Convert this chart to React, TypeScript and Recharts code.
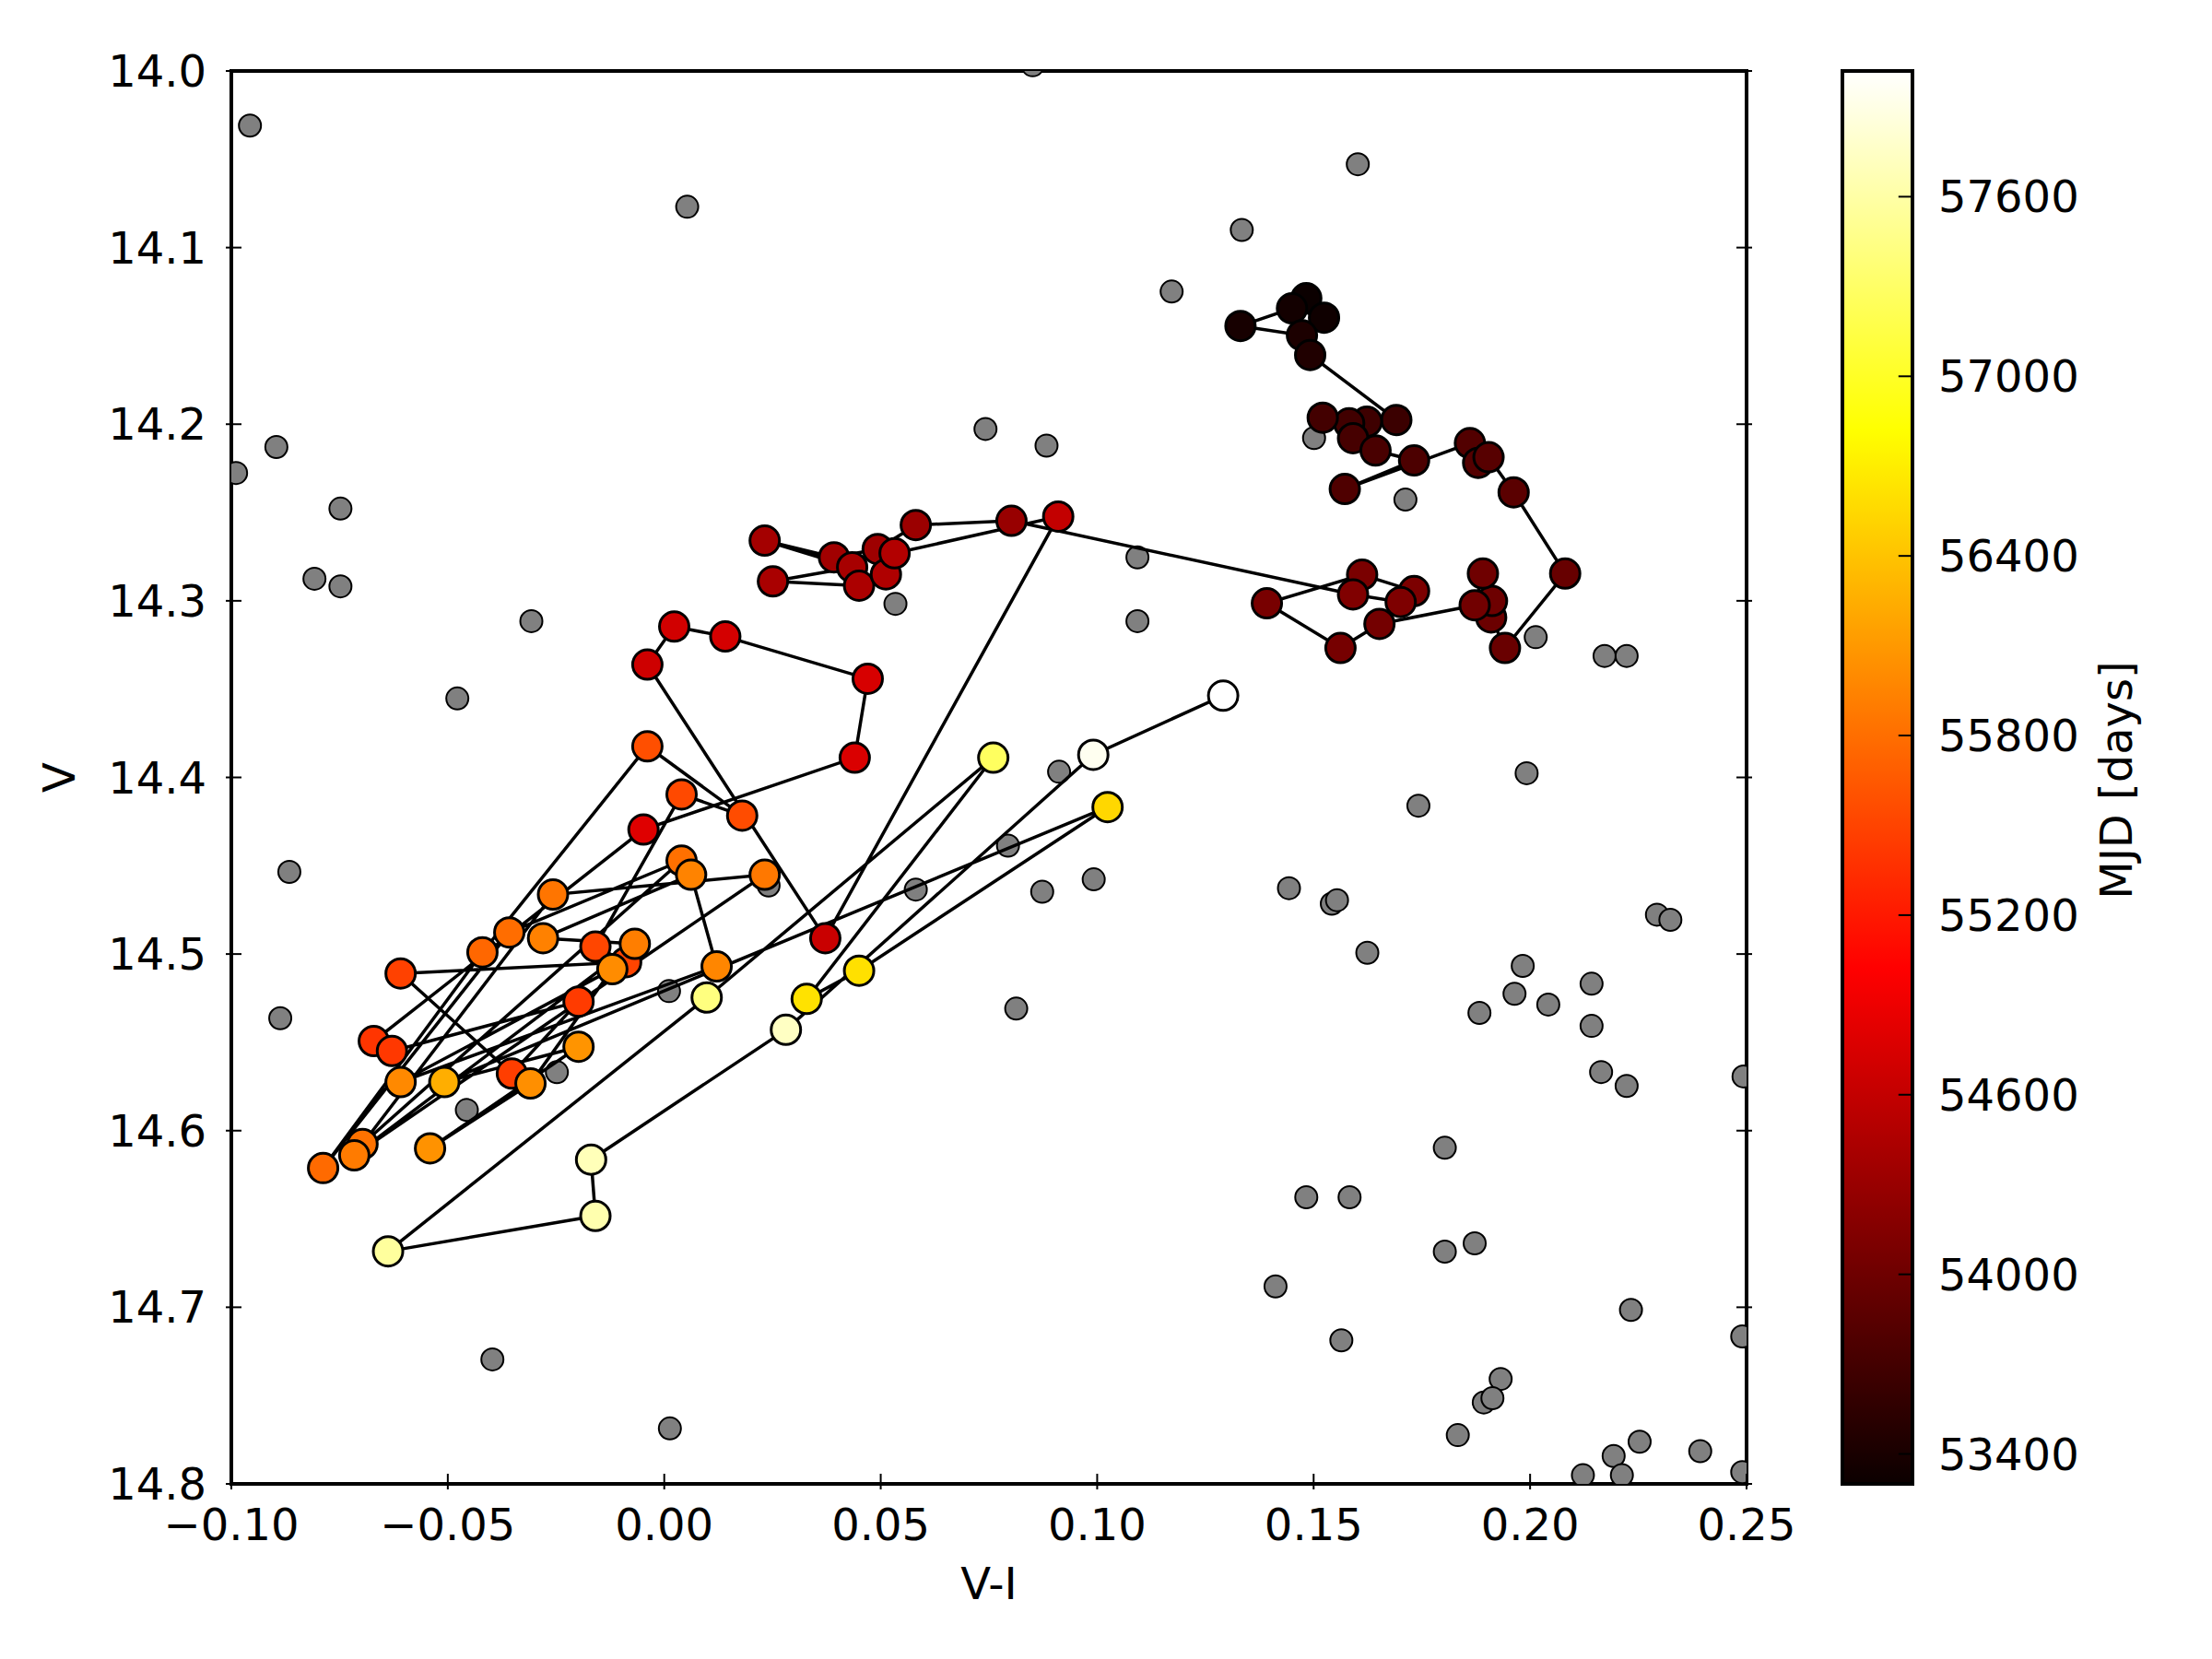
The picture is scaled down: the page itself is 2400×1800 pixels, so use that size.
import React from 'react';
import { ScatterChart, Scatter, XAxis, YAxis, ComposedChart, ReferenceArea, ReferenceLine } from 'recharts';

const W = 2400;
const H = 1800;
const FONT = '"DejaVu Sans", Verdana, sans-serif';
const FS = 48;

// field stars (grey, not connected)
const fieldVI = [
  -0.0957, 0.0053, -0.0896, -0.0989, -0.0748, -0.0808, -0.0748, -0.0307, -0.0478, 0.0851,
  -0.0866, -0.0887, -0.0456, -0.0248, 0.0011, -0.0397, 0.0013, 0.0241, 0.0581, 0.0794,
  0.0873, 0.0813, 0.0912, 0.0992, 0.0742, 0.0883, 0.1093, 0.1093, 0.0534, 0.1172,
  0.1334, 0.1602, 0.1501, 0.1712, 0.2013, 0.2172, 0.2223, 0.1992, 0.1742, 0.1443,
  0.1542, 0.1554, 0.1624, 0.2293, 0.2324, 0.1983, 0.1964, 0.1883, 0.2042, 0.2142,
  0.2142, 0.2164, 0.2223, 0.2493, 0.1803, 0.1483, 0.1583, 0.1412, 0.1803, 0.1872,
  0.2233, 0.1564, 0.249, 0.1932, 0.1893, 0.1913, 0.1833, 0.2253, 0.2193, 0.2393,
  0.2122, 0.2212, 0.249,
];
const fieldV = [
  14.0309, 14.0769, 14.2129, 14.2276, 14.2478, 14.2875, 14.2918, 14.3115, 14.3553, 13.9968,
  14.4535, 14.5363, 14.5883, 14.5669, 14.521, 14.7295, 14.7686, 14.4612, 14.4635, 14.4386,
  14.4647, 14.5309, 14.3968, 14.4577, 14.2027, 14.2121, 14.2754, 14.3115, 14.3017, 14.1249,
  14.09, 14.0528, 14.2078, 14.2427, 14.3206, 14.3312, 14.3312, 14.3976, 14.416, 14.4627,
  14.4715, 14.4695, 14.4993, 14.4777, 14.4806, 14.5067, 14.5225, 14.5333, 14.5286, 14.5168,
  14.5407, 14.5668, 14.5747, 14.5693, 14.6097, 14.6377, 14.6377, 14.6882, 14.6685, 14.6638,
  14.7015, 14.7187, 14.7165, 14.7406, 14.7539, 14.7515, 14.7724, 14.7761, 14.7842, 14.7815,
  14.7951, 14.7951, 14.7933,
];

// target, in time order
const trackVI = [
  0.1483, 0.1524, 0.145, 0.1331, 0.1473, 0.1492,
  0.1691, 0.1623, 0.1582, 0.1521, 0.1591, 0.1643, 0.1732, 0.1572, 0.1861, 0.188, 0.1904, 0.1962,
  0.2081, 0.1942, 0.191, 0.1912, 0.1891, 0.1872, 0.1652, 0.1562, 0.1392, 0.1612, 0.1732, 0.1701, 0.1591,
  0.0802, 0.0581, 0.0493, 0.0392, 0.0232, 0.0434, 0.0251, 0.045, 0.0512, 0.0532,
  0.091, 0.0372, -0.0039, 0.0023, 0.0141, 0.047, 0.044, -0.0048,
  -0.0671, -0.0629, -0.0198, -0.0352, -0.0609, -0.0088, -0.0159, 0.004, 0.018, -0.0039,
  -0.042, -0.0788, -0.0358, 0.004, -0.0697, -0.0257, 0.0232, -0.0716, -0.0068, -0.028,
  0.0062, 0.0121, -0.0609, -0.012, -0.0309, -0.0541, -0.0198, -0.0508,
  0.1024, 0.045, 0.0329, 0.076, 0.0098, -0.0638, -0.0159, -0.0169, 0.0281, 0.0991, 0.1291,
];
const trackV = [
  14.1287, 14.1397, 14.1344, 14.1444, 14.1497, 14.1608,
  14.1976, 14.1986, 14.1995, 14.1963, 14.2079, 14.2149, 14.2205, 14.2367, 14.2107, 14.2219, 14.2187, 14.2386,
  14.2846, 14.3267, 14.3094, 14.3001, 14.2846, 14.3025, 14.3131, 14.3267, 14.3014, 14.2852, 14.2945, 14.3007, 14.2964,
  14.2547, 14.2571, 14.2707, 14.2754, 14.2659, 14.281, 14.289, 14.2914, 14.285, 14.2731,
  14.2523, 14.491, 14.3361, 14.3146, 14.3202, 14.3441, 14.3888, 14.4295,
  14.5493, 14.5549, 14.5269, 14.5677, 14.511, 14.5046, 14.4958, 14.4096, 14.4216, 14.3824,
  14.499, 14.6212, 14.4878, 14.4471, 14.6076, 14.4663, 14.4551, 14.614, 14.4942, 14.491,
  14.4551, 14.507, 14.5725, 14.5086, 14.5733, 14.61, 14.5525, 14.5725,
  14.4168, 14.5094, 14.5254, 14.3888, 14.5246, 14.6683, 14.6483, 14.6164, 14.5429, 14.3872, 14.3537,
];
const trackMJD = [
  53300, 53330, 53360, 53390, 53420, 53450,
  53640, 53660, 53680, 53700, 53720, 53740, 53760, 53780, 53800, 53820, 53840, 53860,
  53950, 53965, 53980, 53995, 54010, 54025, 54040, 54055, 54070, 54085, 54100, 54115, 54130,
  54300, 54320, 54340, 54360, 54380, 54400, 54420, 54440, 54460, 54480,
  54600, 54640, 54680, 54700, 54720, 54740, 54760, 54800,
  55400, 55420, 55440, 55460, 55480, 55500, 55520, 55540, 55560, 55580,
  55750, 55770, 55790, 55810, 55830, 55850, 55870, 55890, 55910, 55930,
  55950, 55970, 55990, 56010, 56030, 56050, 56070, 56250,
  56540, 56600, 56620, 57270, 57420, 57560, 57640, 57690, 57740, 57950, 58020,
];

const xTicks = [-0.1, -0.05, 0, 0.05, 0.1, 0.15, 0.2, 0.25];
const yTicks = [14.0, 14.1, 14.2, 14.3, 14.4, 14.5, 14.6, 14.7, 14.8];
const mjdTicks = [53400, 54000, 54600, 55200, 55800, 56400, 57000, 57600];

const MJD_MIN = Math.min(...trackMJD);
const MJD_MAX = Math.max(...trackMJD);

const fieldData = fieldVI.map((vi, i) => ({ vi, v: fieldV[i] }));
const trackData = trackVI.map((vi, i) => ({ vi, v: trackV[i], mjd: trackMJD[i] }));
const barData = [{ x: 0.5, lo: MJD_MIN, hi: MJD_MAX }];

// matplotlib "hot"
const clamp = (t: number) => Math.max(0, Math.min(1, t));
function hot(t: number) {
  t = clamp(t);
  const r = clamp(0.0416 + (t / 0.365079) * (1 - 0.0416));
  const g = clamp((t - 0.365079) / (0.746032 - 0.365079));
  const b = clamp((t - 0.746032) / (1 - 0.746032));
  const h = (c: number) => Math.round(c * 255).toString(16).padStart(2, '0');
  return `#${h(r)}${h(g)}${h(b)}`;
}
const mjdColor = (m: number) => hot((m - MJD_MIN) / (MJD_MAX - MJD_MIN));
const HOT_STOPS = [0, 0.365079, 0.746032, 1];

const fmtX = (v: number) => (v === 0 ? '0.00' : (v < 0 ? '\u2212' : '') + Math.abs(v).toFixed(2));
const fmtY = (v: number) => v.toFixed(1);

const TICK = 17;
const txt = { fontSize: FS, fontFamily: FONT, fill: '#000' };

const BottomTick = ({ x, y, payload }: any) => (
  <g>
    <line x1={x} y1={y} x2={x} y2={y - TICK} stroke="#000" strokeWidth={2} />
    <text x={x} y={y + 38} textAnchor="middle" dominantBaseline="central" {...txt}>
      {fmtX(payload.value)}
    </text>
  </g>
);
const TopTick = ({ x, y }: any) => (
  <line x1={x} y1={y} x2={x} y2={y + TICK} stroke="#000" strokeWidth={2} />
);
const LeftTick = ({ x, y, payload }: any) => (
  <g>
    <line x1={x} y1={y} x2={x + TICK} y2={y} stroke="#000" strokeWidth={2} />
    <text x={x - 21} y={y} textAnchor="end" dominantBaseline="central" {...txt}>
      {fmtY(payload.value)}
    </text>
  </g>
);
const RightTick = ({ x, y }: any) => (
  <line x1={x} y1={y} x2={x - TICK} y2={y} stroke="#000" strokeWidth={2} />
);
const CbTick = ({ x, y, payload }: any) => (
  <text x={x + 22} y={y} textAnchor="start" dominantBaseline="central" {...txt}>
    {payload.value}
  </text>
);

const xLabel = ({ viewBox }: any) => (
  <text x={viewBox.x + viewBox.width / 2} y={viewBox.y + 108} textAnchor="middle" dominantBaseline="central" {...txt}>
    V-I
  </text>
);
const yLabel = ({ viewBox }: any) => {
  const x = viewBox.x + viewBox.width - 187;
  const y = viewBox.y + viewBox.height / 2;
  return (
    <text x={x} y={y} transform={`rotate(-90 ${x} ${y})`} textAnchor="middle" dominantBaseline="central" {...txt}>
      V
    </text>
  );
};
const cbLabel = ({ viewBox }: any) => {
  const x = viewBox.x + 221;
  const y = viewBox.y + viewBox.height / 2 + 3;
  return (
    <text x={x} y={y} transform={`rotate(-90 ${x} ${y})`} textAnchor="middle" dominantBaseline="central" {...txt}>
      MJD [days]
    </text>
  );
};

const FieldDot = (p: any) => (
  <circle cx={p.cx} cy={p.cy} r={12} fill="#808080" stroke="#000" strokeWidth={2} />
);
const TrackDot = (p: any) => (
  <circle cx={p.cx} cy={p.cy} r={16} fill={mjdColor(p.payload.mjd)} stroke="#000" strokeWidth={3} />
);

const spine = { stroke: '#000', strokeWidth: 4, strokeLinecap: 'square' as const };

export default function App() {
  return (
    <div style={{ position: 'absolute', left: 0, top: 0, width: W, height: H, background: '#fff', fontFamily: FONT }}>
      <div style={{ position: 'absolute', left: 0, top: 0 }}>
        <ScatterChart width={W} height={H} margin={{ top: 67, right: 495, bottom: 90, left: 51 }}>
          <XAxis
            type="number"
            dataKey="vi"
            domain={[-0.1, 0.25]}
            ticks={xTicks}
            allowDataOverflow
            height={100}
            tickLine={false}
            tickMargin={0}
            axisLine={spine}
            tick={<BottomTick />}
            interval={0}
            label={xLabel}
          />
          <XAxis
            xAxisId="top"
            orientation="top"
            type="number"
            domain={[-0.1, 0.25]}
            ticks={xTicks}
            allowDataOverflow
            height={10}
            tickLine={false}
            tickMargin={0}
            axisLine={spine}
            tick={<TopTick />}
            interval={0}
          />
          <YAxis
            type="number"
            dataKey="v"
            domain={[14.0, 14.8]}
            reversed
            ticks={yTicks}
            allowDataOverflow
            width={200}
            tickLine={false}
            tickMargin={0}
            axisLine={spine}
            tick={<LeftTick />}
            interval={0}
            label={yLabel}
          />
          <YAxis
            yAxisId="right"
            orientation="right"
            type="number"
            domain={[14.0, 14.8]}
            reversed
            ticks={yTicks}
            allowDataOverflow
            width={10}
            tickLine={false}
            tickMargin={0}
            axisLine={spine}
            tick={<RightTick />}
            interval={0}
          />
          <Scatter data={fieldData} shape={FieldDot} isAnimationActive={false} />
          <Scatter
            data={trackData}
            shape={TrackDot}
            stroke="#000"
            strokeWidth={3.5}
            line={{ stroke: '#000', strokeWidth: 3.5 }}
            isAnimationActive={false}
          />
        </ScatterChart>
      </div>
      <div style={{ position: 'absolute', left: 0, top: 0 }}>
        <ComposedChart width={W} height={H} data={barData} margin={{ top: 77, right: 125, bottom: 190, left: 1999 }}>
          <defs>
            <linearGradient id="hotMap" x1="0" y1="1" x2="0" y2="0">
              {HOT_STOPS.map((s) => (
                <stop key={s} offset={s} stopColor={hot(s)} />
              ))}
            </linearGradient>
          </defs>
          <XAxis type="number" dataKey="x" domain={[0, 1]} allowDataOverflow hide />
          <YAxis
            orientation="right"
            type="number"
            dataKey="hi"
            domain={[MJD_MIN, MJD_MAX]}
            allowDataOverflow
            ticks={mjdTicks}
            width={200}
            tickLine={false}
            tickMargin={0}
            axisLine={false}
            tick={<CbTick />}
            interval={0}
            label={cbLabel}
          />
          <ReferenceArea
            x1={0}
            x2={1}
            y1={MJD_MIN}
            y2={MJD_MAX}
            fill="url(#hotMap)"
            fillOpacity={1}
            stroke="#000"
            strokeWidth={4}
            ifOverflow="visible"
          />
          {mjdTicks.map((t) => (
            <ReferenceLine
              key={t}
              segment={[
                { x: 0.8, y: t },
                { x: 1, y: t },
              ]}
              stroke="#000"
              strokeWidth={2}
              ifOverflow="visible"
            />
          ))}
        </ComposedChart>
      </div>
    </div>
  );
}
